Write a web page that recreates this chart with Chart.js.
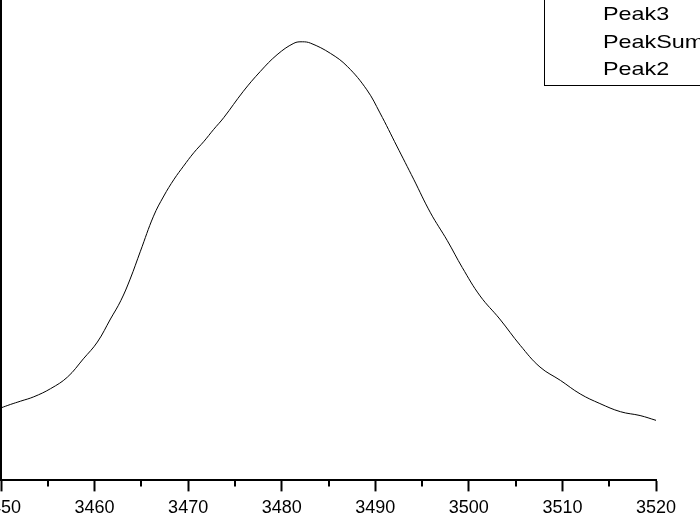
<!DOCTYPE html>
<html>
<head>
<meta charset="utf-8">
<title>Peak fit</title>
<script src="https://cdn.jsdelivr.net/npm/chart.js@4/dist/chart.umd.min.js"></script>
<style>
  html, body { margin: 0; padding: 0; background: #fff; }
  #wrap { width: 700px; height: 528px; }
</style>
</head>
<body>
<div id="wrap"><canvas id="peakChart"></canvas></div>
<script>
// wavenumber positions (x) and summed intensity (arbitrary units, 0-100)
const xValues = [3450.0, 3451.0, 3452.1, 3453.5, 3455.3, 3457.1, 3458.8, 3460.3, 3461.7, 3462.8,
  3463.8, 3464.9, 3466.3, 3467.4, 3468.5, 3469.5, 3470.6, 3471.7, 3472.7, 3473.8,
  3475.9, 3477.7, 3479.5, 3481.3, 3482.2, 3483.1, 3485.2, 3487.0, 3489.1, 3490.5,
  3492.3, 3494.1, 3495.9, 3497.7, 3499.3, 3501.2, 3503.3, 3505.5, 3507.6, 3509.8,
  3511.9, 3514.0, 3516.2, 3518.3, 3520.0];
const peakSum = [15.1, 15.8, 16.5, 17.4, 19.1, 21.5, 25.3, 28.8, 33.6, 37.4,
  41.9, 47.7, 55.0, 59.2, 62.7, 65.4, 68.2, 70.6, 73.0, 75.5,
  81.0, 85.1, 88.6, 91.0, 91.3, 91.0, 88.9, 86.2, 81.3, 76.5,
  69.6, 62.7, 55.7, 49.9, 44.3, 38.4, 33.6, 28.1, 23.6, 20.8,
  18.0, 16.0, 14.3, 13.5, 12.5];
const legendNames = ['Peak3', 'PeakSum', 'Peak2'];
const xTicks = [3450, 3460, 3470, 3480, 3490, 3500, 3510, 3520];
const xMinorTicks = [3455, 3465, 3475, 3485, 3495, 3505, 3515];

const points = xValues.map((x, i) => ({ x: x, y: peakSum[i] }));

// kleine Striche + Legendenkasten
const extras = {
  id: 'extras',
  afterDraw(chart) {
    const c = chart.ctx;
    const xs = chart.scales.x;
    const bottom = chart.chartArea.bottom;
    c.save();
    c.strokeStyle = '#000';
    c.lineWidth = 2;
    xMinorTicks.forEach(v => {
      const px = Math.round(xs.getPixelForValue(v));
      c.beginPath();
      c.moveTo(px, bottom);
      c.lineTo(px, bottom + 6);
      c.stroke();
    });

    // legend box
    c.fillStyle = '#fff';
    c.fillRect(544.5, -5, 170, 90.5);
    c.lineWidth = 1;
    c.strokeRect(544.5, -5, 170, 90.5);
    c.fillStyle = '#000';
    c.font = '19px "Liberation Sans", Arial, sans-serif';
    c.textBaseline = 'middle';
    c.textAlign = 'left';
    legendNames.forEach((name, i) => {
      c.save();
      c.translate(603, 15 + i * 27.5);
      c.scale(1.23, 1); // the legend font is drawn wide
      c.fillText(name, 0, 0);
      c.restore();
    });
    c.restore();
  }
};

const ctx = document.getElementById('peakChart');
const chart = new Chart(ctx, {
  type: 'line',
  data: {
    datasets: [{
      label: 'PeakSum',
      data: points,
      borderColor: '#000',
      borderWidth: 1,
      pointRadius: 0,
      fill: false,
      tension: 0.4
    }]
  },
  options: {
    responsive: true,
    maintainAspectRatio: false,
    animation: false,
    layout: {
      autoPadding: false,
      padding: { left: 1, right: 44, top: 0, bottom: 3 }
    },
    plugins: {
      legend: { display: false },
      tooltip: { enabled: false }
    },
    scales: {
      x: {
        type: 'linear',
        min: 3450,
        max: 3520,
        afterBuildTicks: (scale) => { scale.ticks = xTicks.map(v => ({ value: v })); },
        // the first label is allowed to run off the left edge
        afterFit: (scale) => { scale.paddingLeft = 0; scale.paddingRight = 0; },
        grid: {
          drawOnChartArea: false,
          drawTicks: true,
          tickLength: 11,
          tickWidth: 2,
          tickColor: '#000'
        },
        border: { display: true, color: '#000', width: 2 },
        ticks: {
          color: '#000',
          padding: 6,
          maxRotation: 0,
          autoSkip: false,
          font: { family: '"Liberation Sans", Arial, sans-serif', size: 18 },
          callback: (v) => String(v)
        }
      },
      y: {
        min: 0,
        max: 100,
        grid: { display: false, drawTicks: false },
        border: { display: true, color: '#000', width: 2 },
        ticks: { display: false }
      }
    }
  },
  plugins: [extras]
});
</script>
</body>
</html>
